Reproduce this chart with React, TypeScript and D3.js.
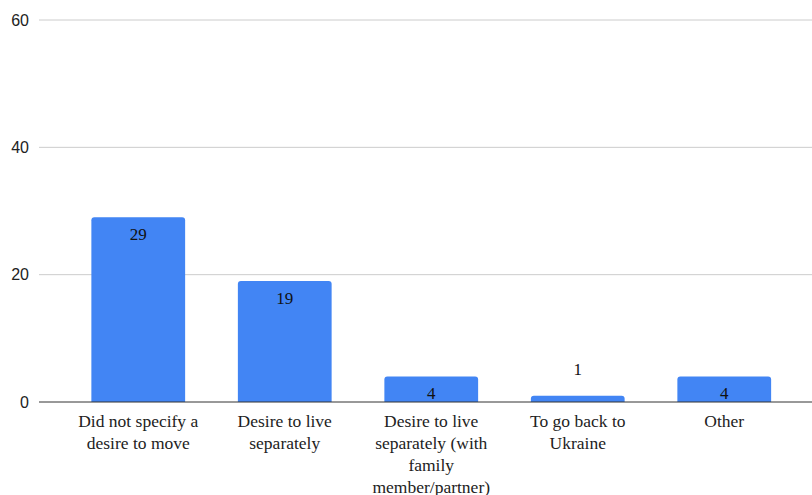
import React from "react";
import * as d3 from "d3";

const categories = [
  "Did not specify a desire to move",
  "Desire to live separately",
  "Desire to live separately (with family member/partner)",
  "To go back to Ukraine",
  "Other",
];
const categoryLines = [
  ["Did not specify a", "desire to move"],
  ["Desire to live", "separately"],
  ["Desire to live", "separately (with", "family", "member/partner)"],
  ["To go back to", "Ukraine"],
  ["Other"],
];
const values = [29, 19, 4, 1, 4];
const yTicks = [0, 20, 40, 60];

const W = 812;
const H = 495;

export default function App() {
  const x = d3.scaleBand<string>().domain(categories).range([65, 797.5]).paddingInner(0.36).paddingOuter(0.18);
  const y = d3.scaleLinear().domain([0, 60]).range([402, 20]);

  const barPath = (x0: number, y0: number, w: number, h: number) => {
    const r = Math.min(3, h / 2, w / 2);
    return `M${x0},${y0 + h}V${y0 + r}Q${x0},${y0} ${x0 + r},${y0}H${x0 + w - r}Q${x0 + w},${y0} ${x0 + w},${y0 + r}V${y0 + h}Z`;
  };

  return (
    <svg width={W} height={H} style={{ position: "absolute", left: 0, top: 0, background: "#fff" }}>
      {yTicks.map((t) => (
        <g key={t}>
          {t !== 0 && <line x1={39} x2={W} y1={y(t)} y2={y(t)} stroke="#cccccc" strokeWidth={1} />}
          <text x={29} y={y(t)} dy="0.35em" textAnchor="end" fontFamily="Liberation Sans, Arial, sans-serif" fontSize={16} fill="#222">
            {t}
          </text>
        </g>
      ))}
      {categories.map((c, i) => {
        const x0 = x(c)!;
        const w = x.bandwidth();
        const top = y(values[i]);
        const h = y(0) - top;
        const inside = h > 20;
        return (
          <g key={c}>
            <path d={barPath(x0, top, w, h)} fill="#4285f4" />
            <text
              x={x0 + w / 2}
              y={inside ? top + 17 : top - 27}
              dy="0.35em"
              textAnchor="middle"
              fontFamily="Liberation Serif, Times New Roman, serif"
              fontSize={17}
              fill="#111"
            >
              {values[i]}
            </text>
            {categoryLines[i].map((ln, j) => (
              <text
                key={j}
                x={x0 + w / 2}
                y={421 + j * 22}
                dy="0.35em"
                textAnchor="middle"
                fontFamily="Liberation Serif, Times New Roman, serif"
                fontSize={17.5}
                fill="#222"
              >
                {ln}
              </text>
            ))}
          </g>
        );
      })}
      <line x1={39} x2={W} y1={y(0)} y2={y(0)} stroke="#333333" strokeWidth={1} />
    </svg>
  );
}
